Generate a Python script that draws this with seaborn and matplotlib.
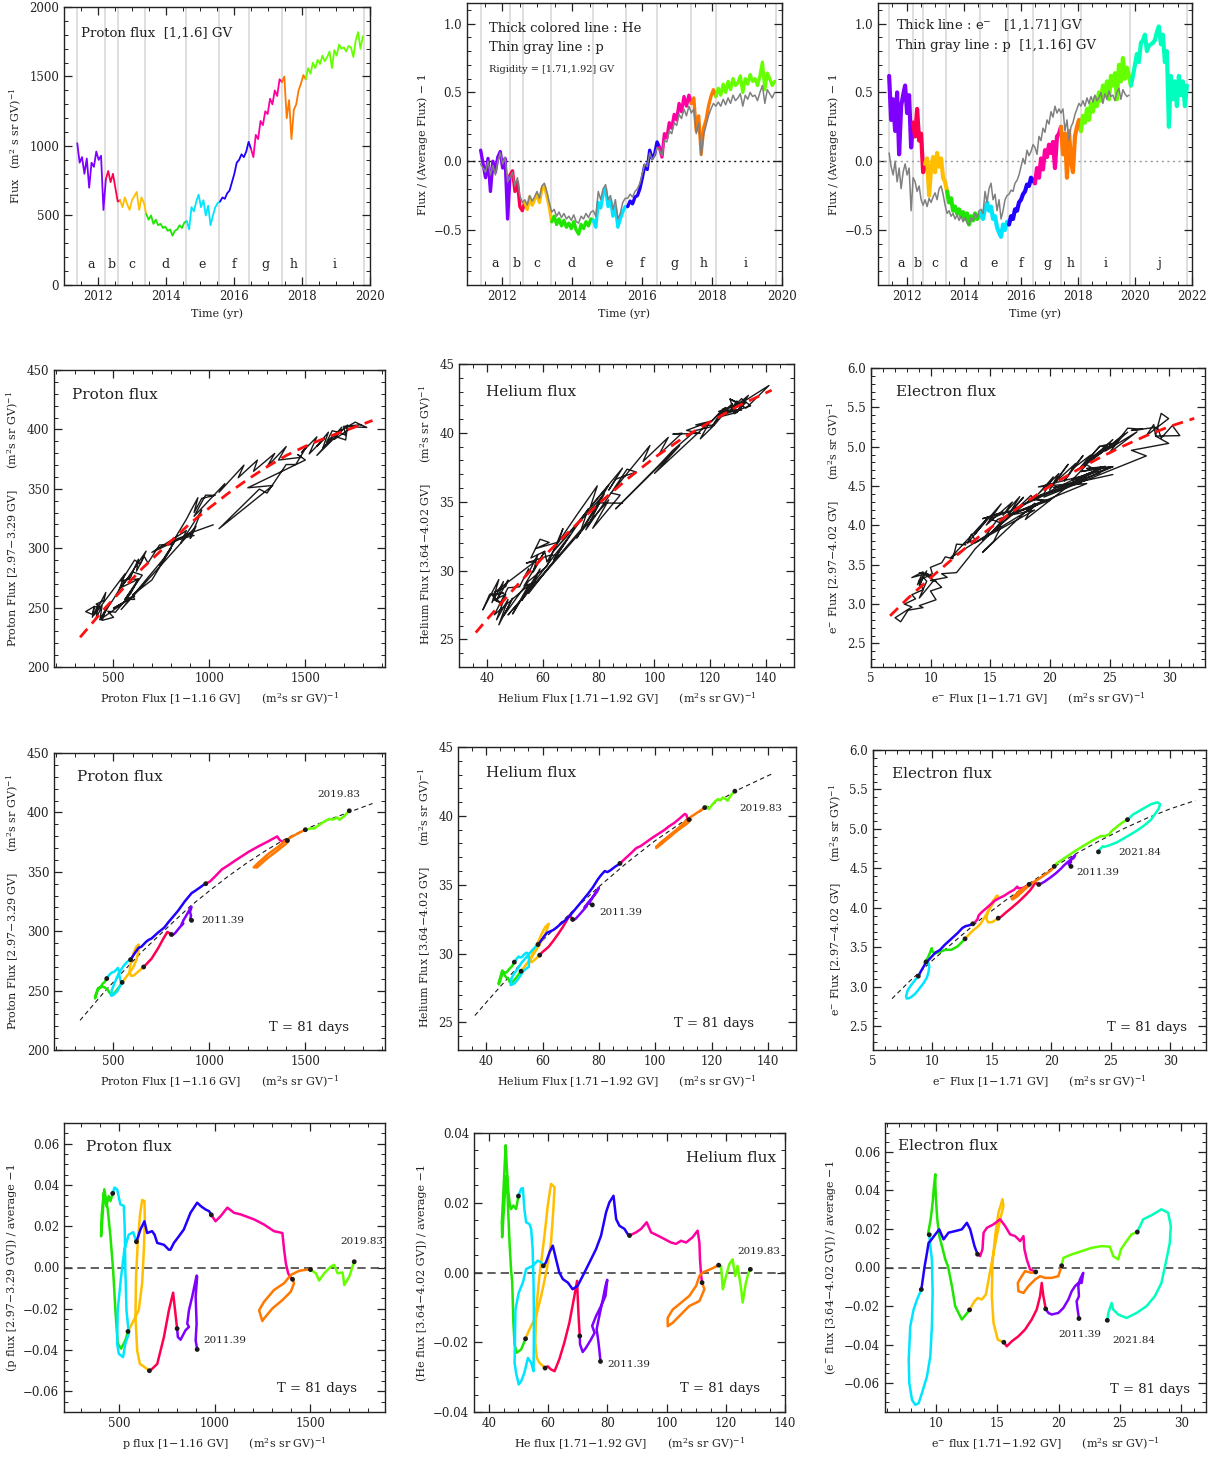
import numpy as np
import pandas as pd
import matplotlib
matplotlib.use("Agg")
import matplotlib.pyplot as plt
from matplotlib.ticker import MultipleLocator
import seaborn as sns

# ---------------- data ----------------
PERIODS = ["a", "b", "c", "d", "e", "f", "g", "h", "i", "j"]
BOUNDS = [2011.39, 2012.22, 2012.59, 2013.39, 2014.59, 2015.55,
          2016.44, 2017.41, 2018.11, 2019.83, 2021.84]
COLORS = ["#8000ff", "#ff0050", "#ffbf00", "#1ee600", "#00e5ff",
          "#2000ff", "#ff00a0", "#ff7800", "#66ff00", "#00ffbf"]

# time grid: one sample every 0.07 yr starting at 2011.39
T0 = 2011.39
DT = 0.07
SPLIT = [0, 12, 18, 29, 46, 60, 73, 86, 96, 121, 150]  # first sample of each period

# proton flux [1,1.16] GV  (m^2 s sr GV)^-1
P_LOW = [1020, 880, 920, 800, 910, 700, 880, 850, 960, 900, 930, 540,
         760, 820, 740, 800, 700, 600,
         610, 560, 630, 580, 540, 610, 640, 670, 540, 630, 590,
         510, 470, 500, 440, 470, 430, 440, 410, 420, 390, 400, 355, 390, 400, 430, 410, 450,
         460, 400, 560, 530, 600, 650, 560, 610, 500, 570, 430, 500, 560, 590,
         600, 630, 620, 660, 680, 740, 800, 880, 900, 940, 920, 960, 1030,
         980, 920, 1080, 1050, 1180, 1150, 1250, 1230, 1340, 1300, 1400, 1360, 1480,
         1460, 1500, 1200, 1330, 1050, 1260, 1300, 1400, 1450, 1510,
         1480, 1560, 1520, 1600, 1560, 1620, 1590, 1650, 1610, 1640, 1680, 1560, 1690,
         1650, 1730, 1700, 1710, 1680, 1720, 1710, 1640, 1760, 1820, 1700, 1790]

# He flux / average - 1 at [1.71,1.92] GV
HE_REL = [0.08, -0.02, -0.12, 0.02, -0.22, 0.00, -0.08, 0.03, 0.07, -0.05, 0.02, -0.42,
          -0.10, -0.07, -0.22, -0.15, -0.33, -0.36,
          -0.30, -0.35, -0.26, -0.32, -0.28, -0.24, -0.30, -0.20, -0.18, -0.25, -0.33,
          -0.44, -0.40, -0.46, -0.42, -0.47, -0.43, -0.48, -0.45, -0.49, -0.44, -0.50, -0.53,
          -0.46, -0.49, -0.44, -0.47, -0.42,
          -0.43, -0.48, -0.30, -0.34, -0.24, -0.20, -0.33, -0.28, -0.40, -0.33, -0.48, -0.42, -0.37, -0.33,
          -0.33, -0.29, -0.31, -0.26, -0.25, -0.20, -0.12, -0.03, -0.06, 0.08, 0.02, 0.05, 0.14,
          0.10, 0.03, 0.20, 0.17, 0.28, 0.24, 0.34, 0.30, 0.42, 0.36, 0.47, 0.40, 0.48,
          0.42, 0.46, 0.22, 0.33, 0.05, 0.24, 0.30, 0.40, 0.47, 0.52,
          0.47, 0.53, 0.48, 0.56, 0.50, 0.58, 0.52, 0.60, 0.55, 0.57, 0.62, 0.50, 0.60,
          0.56, 0.63, 0.58, 0.60, 0.55, 0.62, 0.72, 0.52, 0.64, 0.60, 0.55, 0.58]

# p flux / average - 1 at [1.71,1.92] GV (thin gray, middle panel)
P_REL_HE = [-0.02, -0.05, -0.08, 0.00, -0.10, -0.03, -0.10, 0.00, 0.06, -0.02, 0.03, -0.15,
            -0.12, -0.08, -0.18, -0.12, -0.25, -0.30,
            -0.28, -0.32, -0.25, -0.29, -0.26, -0.22, -0.27, -0.18, -0.16, -0.22, -0.30,
            -0.37, -0.35, -0.40, -0.37, -0.41, -0.38, -0.42, -0.40, -0.43, -0.39, -0.44, -0.45,
            -0.40, -0.42, -0.38, -0.41, -0.37,
            -0.36, -0.40, -0.22, -0.28, -0.20, -0.17, -0.28, -0.25, -0.35, -0.28, -0.42, -0.38, -0.30, -0.27,
            -0.27, -0.24, -0.26, -0.22, -0.20, -0.16, -0.09, -0.02, -0.04, 0.06, 0.01, 0.04, 0.10,
            0.08, 0.04, 0.15, 0.14, 0.22, 0.20, 0.28, 0.26, 0.34, 0.31, 0.38, 0.33, 0.40,
            0.35, 0.38, 0.20, 0.28, 0.04, 0.19, 0.26, 0.33, 0.38, 0.42,
            0.40, 0.43, 0.40, 0.45, 0.41, 0.46, 0.42, 0.48, 0.44, 0.46, 0.49, 0.40, 0.48,
            0.45, 0.50, 0.47, 0.48, 0.44, 0.50, 0.55, 0.42, 0.52, 0.49, 0.46, 0.50]

# e- flux / average - 1 at [1,1.71] GV
E_REL = [0.62, 0.30, 0.45, 0.22, 0.50, 0.05, 0.40, 0.48, 0.55, 0.35, 0.48, 0.10,
         0.28, 0.18, 0.38, 0.15, 0.20, -0.08,
         -0.02, 0.02, -0.25, -0.05, 0.03, -0.08, 0.06, -0.04, 0.02, -0.12, -0.15,
         -0.22, -0.30, -0.27, -0.36, -0.33, -0.38, -0.35, -0.40, -0.37, -0.42, -0.38, -0.46,
         -0.40, -0.43, -0.38, -0.42, -0.40,
         -0.38, -0.42, -0.34, -0.30, -0.36, -0.33, -0.42, -0.40, -0.48, -0.52, -0.55, -0.46, -0.50, -0.44,
         -0.46, -0.40, -0.42, -0.35, -0.36, -0.30, -0.28, -0.24, -0.22, -0.17, -0.18, -0.12, -0.14,
         -0.16, -0.05, -0.12, 0.02, -0.06, 0.08, 0.03, 0.12, 0.06, 0.14, -0.05, 0.18, 0.20,
         0.25, 0.05, 0.20, -0.12, 0.22, 0.00, -0.08, 0.18, 0.25, 0.30,
         0.22, 0.33, 0.28, 0.38, 0.30, 0.42, 0.36, 0.46, 0.40, 0.50, 0.44, 0.55, 0.48,
         0.58, 0.45, 0.62, 0.55, 0.64, 0.45, 0.70, 0.58, 0.75, 0.60, 0.68, 0.62,
         0.55, 0.62, 0.70, 0.78, 0.72, 0.86, 0.88, 0.92, 0.80, 0.84, 0.85, 0.86, 0.88,
         0.94, 0.98, 0.85, 0.92, 0.72, 0.80, 0.25, 0.62, 0.45, 0.58, 0.40, 0.62, 0.48,
         0.58, 0.40, 0.55]

# p flux / average - 1 at [1,1.16] GV (thin gray, right panel)
P_REL_E = [0.06, -0.04, -0.10, 0.00, -0.15, -0.05, -0.20, -0.08, -0.02, -0.10, -0.05, -0.36,
           -0.12, -0.15, -0.22, -0.18, -0.28, -0.32,
           -0.28, -0.33, -0.27, -0.30, -0.26, -0.23, -0.28, -0.20, -0.18, -0.24, -0.32,
           -0.38, -0.36, -0.40, -0.38, -0.42, -0.39, -0.43, -0.40, -0.44, -0.41, -0.45, -0.46,
           -0.41, -0.43, -0.38, -0.41, -0.36,
           -0.35, -0.38, -0.22, -0.30, -0.20, -0.16, -0.28, -0.24, -0.36, -0.28, -0.42, -0.36, -0.28, -0.25,
           -0.24, -0.21, -0.22, -0.16, -0.14, -0.10, -0.04, 0.02, -0.02, 0.08, 0.04, 0.07, 0.12,
           0.10, 0.05, 0.18, 0.15, 0.24, 0.21, 0.30, 0.27, 0.36, 0.32, 0.40, 0.35, 0.38,
           0.35, 0.38, 0.22, 0.30, 0.15, 0.25, 0.28, 0.34, 0.38, 0.42,
           0.40, 0.44, 0.40, 0.46, 0.42, 0.47, 0.43, 0.48, 0.44, 0.46, 0.50, 0.42, 0.49,
           0.45, 0.51, 0.47, 0.48, 0.44, 0.50, 0.53, 0.45, 0.52, 0.49, 0.47, 0.48]

HE_MEAN = 82.0   # He [1.71,1.92] GV average flux
E_MEAN = 15.6    # e- [1,1.71] GV average flux

# high-rigidity flux relative to the fitted curve, same samples as above
P_RES = [-0.05, -0.02, -0.04, 0.00, -0.03, 0.02, -0.01, -0.03, 0.01, -0.04, -0.02, -0.06,
         -0.03, -0.01, -0.04, -0.02, -0.06, -0.05,
         -0.07, -0.04, -0.02, 0.01, 0.03, 0.05, 0.02, 0.04, 0.01, -0.02, -0.04,
         -0.05, -0.02, -0.06, -0.03, 0.00, -0.02, 0.02, 0.00, 0.04, 0.02, 0.05, 0.07, 0.03, 0.05, 0.02, 0.05, 0.03,
         0.05, 0.02, 0.04, 0.01, 0.02, -0.02, -0.04, -0.06, -0.03, -0.05, -0.02, 0.00, 0.02, 0.01,
         0.02, 0.04, 0.01, 0.03, 0.00, 0.02, -0.01, 0.02, 0.03, 0.05, 0.02, 0.04, 0.02,
         0.04, 0.01, 0.03, 0.02, 0.04, 0.02, 0.03, 0.01, 0.02, 0.00, 0.02, 0.00, -0.02,
         -0.01, -0.03, -0.02, -0.05, -0.07, -0.04, -0.06, -0.02, -0.03, 0.00,
         -0.01, 0.01, -0.02, 0.00, -0.01, 0.01, -0.02, 0.00, -0.01, 0.01, 0.00, -0.03, 0.01,
         -0.01, 0.00, 0.01, -0.01, 0.00, 0.01, -0.02, 0.00, 0.01, -0.01, 0.01, 0.00]
HE_RES = [-0.04, 0.00, -0.03, 0.02, -0.01, 0.01, -0.03, 0.00, -0.02, -0.04, -0.01, -0.05,
          -0.02, 0.01, -0.03, -0.01, -0.04, -0.05,
          -0.04, -0.02, 0.01, 0.03, 0.05, 0.02, 0.04, 0.00, 0.02, -0.03, -0.02,
          -0.04, -0.02, -0.05, -0.01, -0.03, 0.01, 0.03, 0.00, 0.05, 0.02, 0.06, 0.04, 0.07, 0.03, 0.05, 0.02, 0.04,
          0.03, 0.05, 0.01, 0.03, -0.01, -0.03, -0.05, -0.02, -0.06, -0.03, -0.01, 0.02, -0.01, 0.01,
          0.00, 0.02, -0.01, 0.01, -0.02, 0.00, 0.02, 0.04, 0.01, 0.03, 0.01, 0.02, 0.00,
          0.02, 0.00, 0.03, 0.01, 0.02, 0.00, 0.01, 0.02, -0.01, 0.01, 0.00, 0.01, -0.01,
          -0.02, 0.00, -0.03, -0.01, -0.04, -0.02, -0.01, 0.00, -0.01, 0.01,
          0.00, 0.01, -0.01, 0.01, 0.00, -0.01, 0.01, 0.00, 0.02, -0.01, 0.00, 0.01, -0.01,
          0.00, 0.01, -0.01, 0.00, 0.02, -0.01, 0.01, 0.00, -0.01, 0.01, 0.00, 0.01]
E_RES = [-0.06, -0.01, -0.04, 0.02, -0.03, 0.01, -0.02, 0.00, -0.04, -0.02, -0.05, -0.01,
         -0.04, 0.00, -0.03, -0.05, -0.02, -0.06,
         -0.05, -0.02, 0.01, 0.04, 0.02, 0.05, 0.01, 0.03, -0.01, -0.03, -0.04,
         -0.06, -0.02, -0.05, -0.01, -0.03, 0.02, 0.00, 0.04, 0.02, 0.06, 0.03, 0.07, 0.05, 0.02, 0.04, 0.01, 0.03,
         0.00, -0.04, -0.02, -0.07, -0.05, -0.10, -0.07, -0.09, -0.05, -0.07, -0.03, -0.05, -0.01, -0.03,
         0.00, -0.02, 0.03, 0.01, 0.04, 0.02, 0.03, 0.00, 0.04, 0.01, 0.02, 0.00, 0.03,
         0.01, 0.04, 0.02, 0.05, 0.02, 0.03, 0.01, 0.03, 0.00, 0.02, -0.02, 0.01, -0.01,
         -0.03, 0.00, -0.04, -0.01, -0.03, 0.01, -0.02, 0.00, -0.01, 0.02,
         0.00, 0.02, -0.01, 0.03, 0.00, 0.02, -0.01, 0.03, 0.01, 0.02, 0.00, 0.03, 0.01,
         0.02, 0.00, 0.03, 0.01, 0.02, 0.00, 0.03, 0.01, 0.02, 0.00, 0.03, 0.02,
         0.03, 0.01, 0.04, 0.02, 0.03, 0.01, 0.04, 0.02, 0.00, 0.02, -0.01, 0.01, -0.02,
         0.00, -0.03, -0.01, -0.04, -0.02, -0.05, -0.02, -0.04, -0.01, -0.03, -0.02, -0.04,
         -0.01, -0.03, -0.02, -0.03]

# fitted curves (dashed lines)
P_FIT_X = [326, 450, 550, 650, 800, 900, 1000, 1100, 1200, 1300, 1400, 1500, 1600, 1700, 1850]
P_FIT_Y = [225, 248.5, 266, 283, 306, 321, 334, 346.5, 358, 368.5, 378, 385.8, 392.5, 398.5, 407.5]
HE_FIT_X = [36, 40, 45, 50, 55, 60, 70, 80, 90, 100, 110, 120, 130, 142]
HE_FIT_Y = [25.5, 26.45, 27.6, 28.75, 29.85, 30.95, 32.95, 34.85, 36.6, 38.2, 39.6, 40.8, 41.95, 43.1]
E_FIT_X = [6.6, 8, 10, 12, 14, 16, 18, 20, 22, 24, 26, 28, 30, 32.1]
E_FIT_Y = [2.85, 3.06, 3.335, 3.595, 3.85, 4.08, 4.295, 4.50, 4.68, 4.846, 4.998, 5.135, 5.255, 5.36]

# 81-day averaged loops: low-rigidity flux and relative deviation from the fit, per period
P_LOOP_X = [
    [907, 899, 904, 899, 907, 904, 881, 864, 855, 864, 846, 820, 806, 802],
    [802, 781, 759, 733, 698, 671, 657],
    [657, 628, 607, 593, 584, 587, 596, 607, 619, 631, 633, 628, 619, 601, 566, 545],
    [545, 531, 509, 491, 479, 467, 453, 439, 421, 414, 404, 407, 418, 432, 444, 453, 465],
    [465, 474, 488, 505, 523, 528, 531, 537, 549, 531, 519, 497, 488, 491, 509, 526, 549, 572, 589],
    [589, 610, 631, 645, 671, 684, 698, 733, 759, 767, 785, 811, 837, 872, 907, 925, 951, 969, 981],
    [981, 1003, 1030, 1065, 1100, 1135, 1205, 1257, 1309, 1353, 1362, 1371, 1383, 1393, 1406],
    [1406, 1414, 1397, 1353, 1301, 1257, 1248, 1231, 1257, 1309, 1362, 1397, 1441, 1476, 1500],
    [1500, 1528, 1545, 1572, 1607, 1624, 1642, 1668, 1677, 1703, 1720, 1729]]
P_LOOP_R = [
    [-0.0397, -0.0353, -0.0272, -0.0141, -0.0044, -0.0039, -0.0141, -0.0207, -0.0272, -0.0288,
     -0.0304, -0.0350, -0.0337, -0.0296],
    [-0.0296, -0.0122, -0.0207, -0.0337, -0.0467, -0.0491, -0.0500],
    [-0.0500, -0.0480, -0.0467, -0.0402, -0.0239, -0.0044, 0.0119, 0.0249, 0.0327, 0.0322, 0.0233,
     0.0086, -0.0076, -0.0207, -0.0272, -0.0310],
    [-0.0310, -0.0353, -0.0393, -0.0369, -0.0207, -0.0011, 0.0151, 0.0281, 0.0379, 0.0281, 0.0151,
     0.0249, 0.0363, 0.0298, 0.0346, 0.0322, 0.0359],
    [0.0359, 0.0387, 0.0379, 0.0306, 0.0298, 0.0184, -0.0011, -0.0207, -0.0320, -0.0369, -0.0434,
     -0.0418, -0.0369, -0.0207, -0.0044, 0.0086, 0.0159, 0.0171, 0.0125],
    [0.0125, 0.0184, 0.0224, 0.0167, 0.0176, 0.0159, 0.0119, 0.0110, 0.0086, 0.0086, 0.0119, 0.0151,
     0.0184, 0.0265, 0.0314, 0.0298, 0.0281, 0.0273, 0.0255],
    [0.0255, 0.0224, 0.0249, 0.0290, 0.0265, 0.0257, 0.0233, 0.0208, 0.0176, 0.0167, 0.0086, 0.0021,
     -0.0028, -0.0044, -0.0057],
    [-0.0057, -0.0076, -0.0117, -0.0158, -0.0198, -0.0247, -0.0259, -0.0207, -0.0166, -0.0109,
     -0.0076, -0.0036, -0.0016, -0.0011, -0.0010],
    [-0.0010, -0.0028, -0.0063, -0.0028, 0.0005, 0.0013, -0.0028, -0.0024, -0.0085, -0.0044, 0.0005, 0.0028]]

HE_LOOP_X = [
    [77.7, 77.3, 76.9, 76.4, 77.3, 78.5, 79.4, 80.0, 79.4, 77.9, 76.2, 74.9, 75.7, 74.5, 72.8, 71.7, 70.8, 70.7],
    [70.7, 70.3, 70.0, 69.8, 68.9, 67.2, 65.5, 63.8, 62.2, 61.0, 59.9, 59.0],
    [59.0, 57.1, 56.2, 55.7, 56.0, 57.1, 58.8, 59.9, 61.0, 62.2, 61.8, 61.0, 59.6, 57.7, 56.0, 54.3, 53.2, 52.4],
    [52.4, 50.9, 49.4, 48.7, 48.3, 47.9, 47.5, 47.0, 46.5, 46.1, 45.6, 45.1, 44.5, 44.4, 44.7, 45.4,
     45.7, 46.1, 46.5, 47.0, 47.5, 48.3, 49.2, 50.0],
    [50.0, 50.9, 51.5, 52.0, 52.6, 53.7, 54.3, 54.8, 55.1, 55.2, 55.2, 55.1, 54.3, 53.2, 52.0, 50.9,
     50.1, 49.2, 48.7, 49.0, 50.1, 51.5, 52.6, 54.8, 56.5, 57.7, 58.4],
    [58.4, 59.3, 60.5, 61.6, 62.7, 63.8, 65.0, 66.7, 68.3, 70.0, 71.7, 74.0, 76.2, 77.9, 79.6, 80.7,
     82.1, 83.0, 84.1, 85.8, 86.9, 87.5],
    [87.5, 89.7, 91.4, 93.3, 94.8, 97.0, 99.3, 101.5, 103.2, 104.9, 106.6, 108.8, 110.5, 111.1, 111.3, 111.7, 112.0],
    [112.0, 112.8, 111.1, 107.7, 104.3, 102.1, 100.4, 100.4, 102.1, 104.3, 107.7, 110.0, 111.1, 112.2, 115.0, 117.6],
    [117.6, 118.4, 119.0, 120.1, 121.2, 122.3, 123.2, 124.0, 125.2, 125.7, 126.8, 127.7, 128.3]]
HE_LOOP_R = [
    [-0.0255, -0.0221, -0.0192, -0.0163, -0.0125, -0.0077, -0.0038, -0.0021, -0.0067, -0.0096, -0.0125,
     -0.0153, -0.0173, -0.0192, -0.0216, -0.0228, -0.0206, -0.0182],
    [-0.0182, -0.0125, -0.0067, -0.0024, -0.0067, -0.0144, -0.0201, -0.0249, -0.0283, -0.0278, -0.0269, -0.0274],
    [-0.0274, -0.0259, -0.0245, -0.0201, -0.0106, -0.0010, 0.0106, 0.0192, 0.0254, 0.0245, 0.0182,
     0.0086, 0.0010, -0.0067, -0.0125, -0.0153, -0.0173, -0.0190],
    [-0.0190, -0.0221, -0.0230, -0.0206, -0.0144, -0.0029, 0.0010, 0.0086, 0.0182, 0.0278, 0.0249,
     0.0182, 0.0101, 0.0144, 0.0192, 0.0317, 0.0365, 0.0297, 0.0240, 0.0201, 0.0182, 0.0192, 0.0182, 0.0219],
    [0.0219, 0.0240, 0.0242, 0.0182, 0.0144, 0.0139, 0.0125, 0.0067, -0.0029, -0.0106, -0.0201, -0.0283,
     -0.0259, -0.0245, -0.0288, -0.0312, -0.0321, -0.0288, -0.0259, -0.0106, -0.0058, -0.0029, 0.0010,
     0.0019, 0.0034, 0.0029, 0.0019],
    [0.0019, 0.0029, 0.0058, 0.0077, 0.0038, 0.0000, -0.0019, -0.0029, -0.0048, -0.0038, -0.0010,
     0.0029, 0.0067, 0.0106, 0.0173, 0.0201, 0.0220, 0.0153, 0.0134, 0.0125, 0.0110, 0.0106],
    [0.0106, 0.0115, 0.0125, 0.0144, 0.0115, 0.0106, 0.0096, 0.0086, 0.0082, 0.0091, 0.0086, 0.0101,
     0.0120, 0.0086, 0.0038, -0.0010, -0.0029],
    [-0.0029, -0.0048, -0.0082, -0.0096, -0.0125, -0.0144, -0.0154, -0.0130, -0.0106, -0.0091, -0.0067,
     -0.0038, -0.0010, 0.0000, 0.0010, 0.0021],
    [0.0021, 0.0019, -0.0048, -0.0010, 0.0024, 0.0038, -0.0010, 0.0019, -0.0048, -0.0086, -0.0029, 0.0000, 0.0009]]

E_LOOP_X = [
    [21.65, 21.54, 21.46, 21.65, 21.60, 21.73, 22.00, 21.87, 21.60, 21.33, 21.06, 20.79, 20.38, 19.97,
     19.43, 19.16, 18.94],
    [18.94, 18.83, 18.75, 18.62, 18.48, 18.21, 17.80, 17.26, 16.72, 16.18, 15.77, 15.53],
    [15.53, 15.04, 14.69, 14.55, 14.61, 14.82, 15.09, 15.42, 15.50, 15.23, 14.96, 14.69, 14.34, 14.07,
     13.74, 13.41, 13.14, 12.74],
    [12.74, 12.44, 12.11, 11.84, 11.57, 11.30, 11.14, 10.98, 10.76, 10.49, 10.27, 10.11, 10.00, 9.95,
     9.95, 9.84, 9.73, 9.57, 9.35, 9.46],
    [9.46, 9.54, 9.67, 9.73, 9.67, 9.54, 9.27, 8.86, 8.59, 8.32, 8.05, 7.83, 7.78, 7.91, 8.18, 8.46, 8.81],
    [8.81, 9.08, 9.27, 9.40, 9.54, 9.95, 10.27, 10.62, 11.03, 11.57, 12.11, 12.52, 12.79, 13.14, 13.39],
    [13.39, 13.60, 13.79, 13.88, 14.15, 14.69, 15.23, 15.64, 16.04, 16.45, 16.86, 17.13, 17.21, 17.40, 17.67, 18.13],
    [18.13, 17.80, 17.26, 16.99, 16.67, 16.72, 17.13, 17.53, 18.08, 18.48, 18.89, 19.43, 19.97, 20.24],
    [20.24, 20.38, 21.06, 21.87, 22.68, 23.50, 24.17, 24.44, 24.85, 25.07, 25.53, 25.93, 26.40],
    [26.40, 26.88, 27.56, 28.37, 28.92, 29.13, 29.05, 28.78, 28.37, 27.83, 27.15, 26.34, 25.53, 24.85,
     24.44, 24.31, 24.04, 23.96]]
E_LOOP_R = [
    [-0.0265, -0.0218, -0.0175, -0.0149, -0.0097, -0.0062, -0.0028, -0.0080, -0.0080, -0.0097, -0.0123,
     -0.0166, -0.0210, -0.0236, -0.0244, -0.0236, -0.0215],
    [-0.0215, -0.0175, -0.0149, -0.0080, -0.0149, -0.0218, -0.0270, -0.0322, -0.0357, -0.0383, -0.0409, -0.0388],
    [-0.0388, -0.0375, -0.0288, -0.0149, 0.0024, 0.0163, 0.0284, 0.0354, 0.0319, 0.0250, 0.0163, 0.0076,
     -0.0045, -0.0140, -0.0166, -0.0158, -0.0175, -0.0220],
    [-0.0220, -0.0244, -0.0270, -0.0236, -0.0201, -0.0097, -0.0045, 0.0007, 0.0042, 0.0111, 0.0163,
     0.0250, 0.0354, 0.0432, 0.0484, 0.0423, 0.0336, 0.0250, 0.0172, 0.0170],
    [0.0170, 0.0111, 0.0042, -0.0132, -0.0305, -0.0461, -0.0565, -0.0652, -0.0704, -0.0713, -0.0687,
     -0.0600, -0.0479, -0.0305, -0.0218, -0.0166, -0.0114],
    [-0.0114, 0.0007, 0.0076, 0.0128, 0.0137, 0.0172, 0.0198, 0.0146, 0.0181, 0.0189, 0.0198, 0.0232,
     0.0198, 0.0111, 0.0069],
    [0.0069, 0.0059, 0.0094, 0.0180, 0.0206, 0.0224, 0.0250, 0.0215, 0.0172, 0.0163, 0.0137, 0.0163,
     0.0094, 0.0042, -0.0010, -0.0023],
    [-0.0023, -0.0028, -0.0019, -0.0045, -0.0080, -0.0123, -0.0132, -0.0097, -0.0062, -0.0045, -0.0054,
     -0.0054, -0.0045, 0.0009],
    [0.0009, 0.0050, 0.0068, 0.0085, 0.0102, 0.0111, 0.0108, 0.0059, 0.0042, 0.0094, 0.0137, 0.0172, 0.0184],
    [0.0184, 0.0250, 0.0271, 0.0302, 0.0284, 0.0215, 0.0128, 0.0042, -0.0080, -0.0149, -0.0201, -0.0236,
     -0.0262, -0.0244, -0.0218, -0.0184, -0.0236, -0.0274]]

# ---------------- style ----------------
sns.set_theme(style="ticks", rc={
    "xtick.direction": "in", "ytick.direction": "in",
    "xtick.top": True, "ytick.right": True,
    "xtick.major.size": 6, "ytick.major.size": 6,
    "xtick.minor.size": 3, "ytick.minor.size": 3,
    "xtick.major.width": 0.9, "ytick.major.width": 0.9,
    "xtick.minor.width": 0.7, "ytick.minor.width": 0.7,
    "axes.linewidth": 1.0, "axes.edgecolor": "#222222",
    "xtick.color": "#222222", "ytick.color": "#222222",
    "xtick.labelsize": 8.5, "ytick.labelsize": 8.5,
    "axes.labelsize": 8, "axes.labelcolor": "#222222", "text.color": "#222222",
    "mathtext.fontset": "dejavuserif",
})
plt.rcParams["font.family"] = ["DejaVu Serif"]

PAL = dict(zip(PERIODS, COLORS))
W, H = 1223, 1459
fig = plt.figure(figsize=(W / 100, H / 100), dpi=100)


def box(l, t, r, b):
    return fig.add_axes([l / W, 1 - b / H, (r - l) / W, (b - t) / H])


def ticks(ax, xmaj, xmin, ymaj, ymin):
    ax.xaxis.set_major_locator(MultipleLocator(xmaj))
    ax.xaxis.set_minor_locator(MultipleLocator(xmin))
    ax.yaxis.set_major_locator(MultipleLocator(ymaj))
    ax.yaxis.set_minor_locator(MultipleLocator(ymin))


def by_period(x, y):
    frames = []
    for k in range(len(SPLIT) - 1):
        lo, hi = SPLIT[k], min(SPLIT[k + 1] + 1, len(y))
        if lo >= len(y):
            break
        frames.append(pd.DataFrame({"x": x[lo:hi], "y": y[lo:hi], "period": PERIODS[k]}))
    return pd.concat(frames, ignore_index=True)


def time_axis(n):
    return T0 + DT * np.arange(n)


def period_marks(ax, nper):
    for b in BOUNDS[:nper + 1]:
        ax.axvline(b, color="#dcdcdc", lw=1.3, zorder=0)
    for k in range(nper):
        ax.text((BOUNDS[k] + BOUNDS[k + 1]) / 2, 0.075, PERIODS[k], ha="center", va="center",
                fontsize=9, transform=ax.get_xaxis_transform())


UNIT = "(m$^2$s sr GV)$^{-1}$"

# ---------------- row 1: time series ----------------
ax = box(64, 7, 370, 285)
t_p = time_axis(len(P_LOW))
period_marks(ax, 9)
sns.lineplot(data=by_period(t_p, np.array(P_LOW, float)), x="x", y="y", hue="period", palette=PAL,
             sort=False, estimator=None, lw=1.3, legend=False, ax=ax)
ax.set(xlim=(2011, 2020), ylim=(0, 2000), xlabel="Time (yr)", ylabel="Flux   (m$^2$ s sr GV)$^{-1}$")
ticks(ax, 2, 0.5, 500, 100)
ax.text(0.055, 0.905, "Proton flux  [1,1.6] GV", transform=ax.transAxes, fontsize=9.5, va="center")

ax = box(467, 3, 782, 285)
period_marks(ax, 9)
ax.axhline(0, color="k", lw=1.0, ls=(0, (1.5, 2.5)), zorder=1)
sns.lineplot(data=by_period(t_p, np.array(HE_REL)), x="x", y="y", hue="period", palette=PAL,
             sort=False, estimator=None, lw=2.4, legend=False, ax=ax)
sns.lineplot(x=t_p, y=P_REL_HE, sort=False, estimator=None, color="#808080", lw=1.1, ax=ax)
ax.set(xlim=(2011, 2020), ylim=(-0.9, 1.15), xlabel="Time (yr)", ylabel="Flux / (Average Flux) − 1")
ticks(ax, 2, 0.5, 0.5, 0.1)
ax.text(0.069, 0.91, "Thick colored line : He", transform=ax.transAxes, fontsize=9.5, va="center")
ax.text(0.069, 0.843, "Thin gray line : p", transform=ax.transAxes, fontsize=9.5, va="center")
ax.text(0.069, 0.765, "Rigidity = [1.71,1.92] GV", transform=ax.transAxes, fontsize=7, va="center")

ax = box(878, 3, 1192, 285)
t_e = time_axis(len(E_REL))
period_marks(ax, 10)
ax.axhline(0, color="#999999", lw=1.0, ls=(0, (1.5, 2.5)), zorder=1)
sns.lineplot(data=by_period(t_e, np.array(E_REL)), x="x", y="y", hue="period", palette=PAL,
             sort=False, estimator=None, lw=3.0, legend=False, ax=ax)
sns.lineplot(x=t_p, y=P_REL_E, sort=False, estimator=None, color="#808080", lw=1.1, ax=ax)
ax.set(xlim=(2011, 2022), ylim=(-0.9, 1.15), xlabel="Time (yr)", ylabel="Flux / (Average Flux) − 1")
ticks(ax, 2, 0.5, 0.5, 0.1)
ax.text(0.056, 0.92, "Thick line : e$^{-}$   [1,1.71] GV", transform=ax.transAxes, fontsize=9.5, va="center")
ax.text(0.056, 0.848, "Thin gray line : p  [1,1.16] GV", transform=ax.transAxes, fontsize=9.5, va="center")

# ---------------- shared definitions for rows 2-4 ----------------
species = [
    dict(x=np.array(P_LOW, float), res=np.array(P_RES), fx=P_FIT_X, fy=P_FIT_Y,
         lx=P_LOOP_X, lr=P_LOOP_R, title="Proton flux",
         r2=(54, 370, 385, 667), r3=(54, 753, 385, 1050), r4=(64, 1123, 385, 1412),
         xlim=(190, 1915), ylim=(200, 450), tk=(500, 100, 50, 10),
         xlim4=(210, 1890), ylim4=(-0.07, 0.07), tk4=(500, 100, 0.02, 0.005),
         xl="Proton Flux [1−1.16 GV]      " + UNIT,
         yl="Proton Flux [2.97−3.29 GV]      " + UNIT,
         xl4="p flux [1−1.16 GV]      " + UNIT,
         yl4="(p flux [2.97−3.29 GV]) / average −1",
         t2=(0.055, 0.915), t3=(0.07, 0.92), t4=(0.07, 0.917, "left"),
         days3=(0.891, 0.077), days4=(0.912, 0.083),
         ann3=[(1561, 414.8, "2019.83"), (956, 309, "2011.39")],
         ann4=[(1656, 0.0124, "2019.83"), (939, -0.0353, "2011.39")]),
    dict(x=HE_MEAN * (1 + np.array(HE_REL)), res=np.array(HE_RES), fx=HE_FIT_X, fy=HE_FIT_Y,
         lx=HE_LOOP_X, lr=HE_LOOP_R, title="Helium flux",
         r2=(459, 364, 794, 667), r3=(458, 747, 796, 1050), r4=(474, 1133, 785, 1412),
         xlim=(30, 150), ylim=(23, 45), tk=(20, 5, 5, 1),
         xlim4=(35, 140), ylim4=(-0.04, 0.04), tk4=(20, 5, 0.02, 0.005),
         xl="Helium Flux [1.71−1.92 GV]      " + UNIT,
         yl="Helium Flux [3.64−4.02 GV]      " + UNIT,
         xl4="He flux [1.71−1.92 GV]      " + UNIT,
         yl4="(He flux [3.64−4.02 GV]) / average −1",
         t2=(0.08, 0.907), t3=(0.084, 0.914), t4=(0.973, 0.91, "right"),
         days3=(0.877, 0.087), days4=(0.92, 0.086),
         ann3=[(130, 40.5, "2019.83"), (80, 33.0, "2011.39")],
         ann4=[(123.8, 0.0059, "2019.83"), (80, -0.0265, "2011.39")]),
    dict(x=E_MEAN * (1 + np.array(E_REL)), res=np.array(E_RES), fx=E_FIT_X, fy=E_FIT_Y,
         lx=E_LOOP_X, lr=E_LOOP_R, title="Electron flux",
         r2=(871, 368, 1205, 667), r3=(873, 750, 1206, 1050), r4=(885, 1123, 1206, 1412),
         xlim=(5, 33), ylim=(2.2, 6.0), tk=(5, 1, 0.5, 0.1),
         xlim4=(5.85, 32), ylim4=(-0.075, 0.075), tk4=(5, 1, 0.02, 0.005),
         xl="e$^{-}$ Flux [1−1.71 GV]      " + UNIT,
         yl="e$^{-}$ Flux [2.97−4.02 GV]      " + UNIT,
         xl4="e$^{-}$ flux [1.71−1.92 GV]      " + UNIT,
         yl4="(e$^{-}$ flux [3.64−4.02 GV]) / average −1",
         t2=(0.075, 0.92), t3=(0.057, 0.92), t4=(0.04, 0.92, "left"),
         days3=(0.942, 0.076), days4=(0.95, 0.077),
         ann3=[(25.6, 4.70, "2021.84"), (22.1, 4.45, "2011.39")],
         ann4=[(24.4, -0.038, "2021.84"), (19.97, -0.035, "2011.39")]),
]

for sp in species:
    fx, fy = np.array(sp["fx"], float), np.array(sp["fy"], float)

    # ---- row 2: daily high- vs low-rigidity flux ----
    ax = box(*sp["r2"])
    y2 = np.interp(sp["x"], fx, fy) * (1 + sp["res"])
    sns.lineplot(x=sp["x"], y=y2, sort=False, estimator=None, color="k", lw=1.0, ax=ax)
    sns.lineplot(x=fx, y=fy, sort=False, estimator=None, color="#ff1010", lw=2.0, ls=(0, (4, 2.5)), ax=ax)
    ax.set(xlim=sp["xlim"], ylim=sp["ylim"], xlabel=sp["xl"], ylabel=sp["yl"])
    ticks(ax, *sp["tk"])
    ax.text(sp["t2"][0], sp["t2"][1], sp["title"], transform=ax.transAxes, fontsize=11, va="center")

    # loops table
    frames = []
    for k, (lx, lr) in enumerate(zip(sp["lx"], sp["lr"])):
        lx, lr = np.array(lx, float), np.array(lr, float)
        frames.append(pd.DataFrame({"x": lx, "r": lr, "y": np.interp(lx, fx, fy) * (1 + lr),
                                    "period": PERIODS[k]}))
    loops = pd.concat(frames, ignore_index=True)
    dots = pd.concat([f.iloc[[0]] for f in frames] + [frames[-1].iloc[[-1]]], ignore_index=True)

    # ---- row 3: 81-day averaged loops ----
    ax = box(*sp["r3"])
    sns.lineplot(x=fx, y=fy, sort=False, estimator=None, color="k", lw=0.8, ls=(0, (4, 3)), ax=ax)
    sns.lineplot(data=loops, x="x", y="y", hue="period", palette=PAL, sort=False, estimator=None,
                 lw=1.8, legend=False, ax=ax)
    sns.scatterplot(data=dots, x="x", y="y", color="k", s=12, edgecolor="none", zorder=5, ax=ax)
    ax.set(xlim=sp["xlim"], ylim=sp["ylim"], xlabel=sp["xl"], ylabel=sp["yl"])
    ticks(ax, *sp["tk"])
    ax.text(sp["t3"][0], sp["t3"][1], sp["title"], transform=ax.transAxes, fontsize=11, va="center")
    ax.text(sp["days3"][0], sp["days3"][1], "T = 81 days", transform=ax.transAxes, fontsize=9.5,
            ha="right", va="center")
    for ax_x, ax_y, s in sp["ann3"]:
        ax.text(ax_x, ax_y, s, fontsize=7.5, va="center")

    # ---- row 4: relative deviation from the fit ----
    ax = box(*sp["r4"])
    ax.axhline(0, color="#444444", lw=1.2, ls=(0, (5, 3)), zorder=1)
    sns.lineplot(data=loops, x="x", y="r", hue="period", palette=PAL, sort=False, estimator=None,
                 lw=1.8, legend=False, ax=ax)
    sns.scatterplot(data=dots, x="x", y="r", color="k", s=12, edgecolor="none", zorder=5, ax=ax)
    ax.set(xlim=sp["xlim4"], ylim=sp["ylim4"], xlabel=sp["xl4"], ylabel=sp["yl4"])
    ticks(ax, *sp["tk4"])
    ax.text(sp["t4"][0], sp["t4"][1], sp["title"], transform=ax.transAxes, fontsize=11, va="center",
            ha=sp["t4"][2])
    ax.text(sp["days4"][0], sp["days4"][1], "T = 81 days", transform=ax.transAxes, fontsize=9.5,
            ha="right", va="center")
    for ax_x, ax_y, s in sp["ann4"]:
        ax.text(ax_x, ax_y, s, fontsize=7.5, va="center")

fig.savefig("out.png", dpi=100)
